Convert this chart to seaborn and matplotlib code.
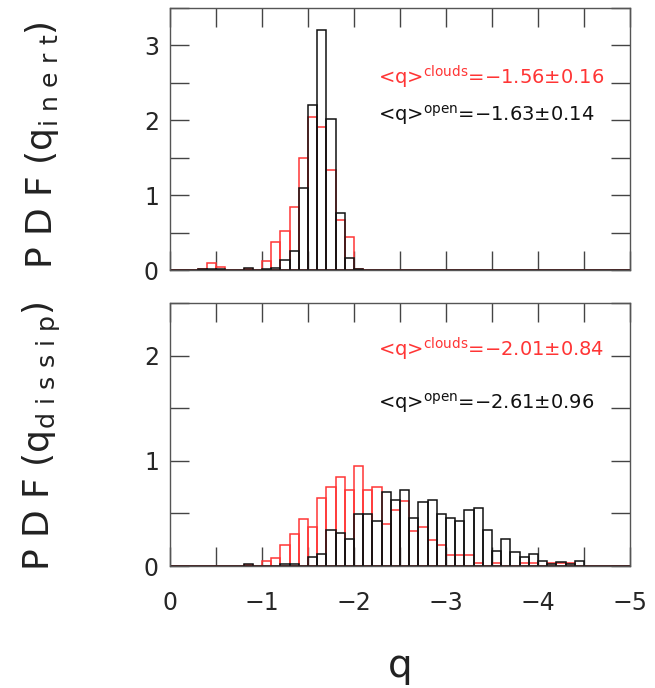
import numpy as np
import pandas as pd
import matplotlib
matplotlib.use("Agg")
import matplotlib.pyplot as plt
from matplotlib.ticker import MultipleLocator
import seaborn as sns

# ---------------- data (PDF values per 0.1-wide bin, bin i covers [-0.1*i, -0.1*(i+1)]) ----
bin_width = 0.1
bin_range = (-5.0, 0.0)

inert_clouds = [0, 0, 0, 0.02, 0.09, 0.045, 0, 0, 0.01, 0,
                0.12, 0.37, 0.52, 0.84, 1.49, 2.04, 1.91, 1.33, 0.67, 0.44,
                0.02, 0, 0, 0, 0, 0, 0, 0, 0, 0,
                0, 0, 0, 0, 0, 0, 0, 0, 0, 0,
                0, 0, 0, 0, 0, 0, 0, 0, 0, 0]
inert_open = [0, 0, 0, 0.01, 0.02, 0.02, 0, 0, 0.03, 0,
              0.01, 0.03, 0.13, 0.26, 1.10, 2.20, 3.20, 2.02, 0.76, 0.16,
              0.01, 0, 0, 0, 0, 0, 0, 0, 0, 0,
              0, 0, 0, 0, 0, 0, 0, 0, 0, 0,
              0, 0, 0, 0, 0, 0, 0, 0, 0, 0]
dissip_clouds = [0, 0, 0, 0, 0, 0, 0, 0, 0.01, 0,
                 0.05, 0.08, 0.20, 0.30, 0.45, 0.37, 0.65, 0.75, 0.85, 0.72,
                 0.95, 0.72, 0.75, 0.40, 0.53, 0.62, 0.33, 0.37, 0.25, 0.20,
                 0.10, 0.10, 0.10, 0.025, 0, 0.025, 0, 0, 0.025, 0.025,
                 0, 0.025, 0.025, 0.025, 0, 0, 0, 0, 0, 0]
dissip_open = [0, 0, 0, 0, 0, 0, 0, 0, 0.02, 0,
               0, 0, 0.016, 0.016, 0, 0.09, 0.11, 0.34, 0.31, 0.26,
               0.49, 0.49, 0.43, 0.70, 0.63, 0.72, 0.46, 0.61, 0.63, 0.49,
               0.46, 0.43, 0.53, 0.55, 0.34, 0.14, 0.26, 0.13, 0.09, 0.11,
               0.05, 0.02, 0.035, 0.02, 0.05, 0, 0, 0, 0, 0]

stats_inert = {"clouds": "−1.56±0.16", "open": "−1.63±0.14"}
stats_dissip = {"clouds": "−2.01±0.84", "open": "−2.61±0.96"}

x_ticks = [0, -1, -2, -3, -4, -5]
x_ticklabels = ["0", "−1", "−2", "−3", "−4", "−5"]

RED = "#ff3535"
BLACK = "#111111"

# bin centres for bin i (0 .. -5)
centers = -(np.arange(50) + 0.5) * bin_width

sns.set_style("white")
plt.rcParams["font.family"] = ["DejaVu Sans"]
plt.rcParams["mathtext.fontset"] = "dejavusans"

fig = plt.figure(figsize=(6.55, 6.88), dpi=100)
ax1 = fig.add_axes([170 / 655, 1 - 270 / 688, 460 / 655, 262 / 688])
ax2 = fig.add_axes([170 / 655, 1 - 566 / 688, 460 / 655, 263 / 688])


def draw(ax, red_vals, black_vals, ymax, stats, ypos):
    df_r = pd.DataFrame({"q": centers, "pdf": np.asarray(red_vals, float)})
    df_b = pd.DataFrame({"q": centers, "pdf": np.asarray(black_vals, float)})
    sns.histplot(data=df_r, x="q", weights="pdf", binwidth=bin_width,
                 binrange=bin_range, element="bars",
                 fill=False, color=RED, linewidth=1.1, ax=ax, stat="count")
    sns.histplot(data=df_b, x="q", weights="pdf", binwidth=bin_width,
                 binrange=bin_range, element="bars",
                 fill=False, color=BLACK, linewidth=1.1, ax=ax, stat="count")
    ax.set_xlim(0, -5)
    ax.set_ylim(0, ymax)
    ax.set_xlabel("")
    ax.set_ylabel("")
    ax.xaxis.set_major_locator(MultipleLocator(1))
    ax.xaxis.set_minor_locator(MultipleLocator(0.5))
    ax.yaxis.set_major_locator(MultipleLocator(1))
    ax.yaxis.set_minor_locator(MultipleLocator(0.5))
    ax.tick_params(which="both", direction="in", length=14, width=1.0,
                   color="#444444", top=True, right=True, bottom=True, left=True,
                   labelsize=17, pad=8)
    ax.tick_params(axis="x", pad=18)
    for s in ax.spines.values():
        s.set_color("#555555")
        s.set_linewidth(1.0)
    ax.text(-2.26, ypos[0], r"<q>$^{\rm clouds}$=" + stats["clouds"], color=RED,
            fontsize=14, ha="left", va="center")
    ax.text(-2.26, ypos[1], r"<q>$^{\rm open}$=" + stats["open"], color=BLACK,
            fontsize=14, ha="left", va="center")


draw(ax1, inert_clouds, inert_open, 3.5, stats_inert, (2.57, 2.07))
draw(ax2, dissip_clouds, dissip_open, 2.5, stats_dissip, (2.06, 1.55))

ax1.tick_params(labelbottom=False)
ax2.set_xticks(x_ticks)
ax2.set_xticklabels(x_ticklabels)

fig.text(42 / 655, 1 - 145 / 688, r"P D F (q$_{\rm i\ n\ e\ r\ t}$)", rotation=90,
         ha="center", va="center", fontsize=26, color="#222222")
fig.text(42 / 655, 1 - 436 / 688, r"P D F (q$_{\rm d\ i\ s\ s\ i\ p}$)", rotation=90,
         ha="center", va="center", fontsize=26, color="#222222")
fig.text(400 / 655, 1 - 666 / 688, "q", ha="center", va="center", fontsize=28,
         color="#222222")

fig.savefig("out.png", dpi=100)
